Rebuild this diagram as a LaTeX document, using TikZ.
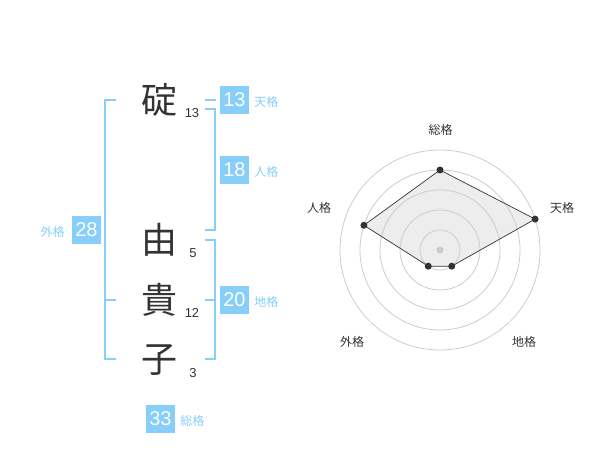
\documentclass[tikz,border=0pt]{standalone}
\usepackage{fontspec}
\setmainfont{Liberation Sans}
\newfontfamily\jpfont{Noto Sans CJK JP}
\usetikzlibrary{positioning}
\definecolor{kakublue}{HTML}{87CEFA}
\definecolor{inkgray}{HTML}{333333}

\begin{document}
\begin{tikzpicture}[x=1pt,y=-1pt,
            kanji/.style={font=\jpfont\fontsize{36}{36}\selectfont,text=inkgray,inner sep=0pt},
            stroke num/.style={font=\fontsize{13}{13}\selectfont,text=inkgray,inner sep=0pt},
            num box/.style={fill=kakublue,text=white,font=\fontsize{20}{20}\selectfont,
                minimum width=29pt,minimum height=28pt,inner sep=0pt},
            kaku label/.style={font=\jpfont\fontsize{12}{12}\selectfont,text=kakublue,inner sep=0pt},
            bracket/.style={draw=kakublue,line width=2pt},
            ring/.style={draw=black!20,line width=0.8pt},
            dot/.style={circle,fill=inkgray,inner sep=0pt,minimum size=7pt},
            axis label/.style={font=\jpfont\fontsize{12}{12}\selectfont,text=inkgray,inner sep=0pt}]

        \useasboundingbox (0,0) rectangle (600,470);

        % name
        \node[kanji] (c1) at (159.5,100) {碇};
        \node[kanji] (c2) at (159.5,240) {由};
        \node[kanji] (c3) at (159.5,300) {貴};
        \node[kanji] (c4) at (159.5,360) {子};

        \node[stroke num] (n1) at (192,113) {13};
        \node[stroke num] (n2) at (193,253) {5};
        \node[stroke num] (n3) at (192,313) {12};
        \node[stroke num] (n4) at (193,373) {3};

        % brackets
        \draw[bracket] (116,100) -| (105,359) -- (116,359);
        \draw[bracket] (105,300) -- (116,300);
        \draw[bracket] (205,100) -- (216,100);
        \draw[bracket] (205,109) -| (215,230) -- (205,230);
        \draw[bracket] (205,240) -| (215,359) -- (205,359);
        \draw[bracket] (205,300) -- (215,300);

        % boxes
        \node[num box] (ten) at (234.5,100) {13};
        \node[num box] (jin) at (234.5,170) {18};
        \node[num box] (chi) at (234.5,300) {20};
        \node[num box] (gai) at (86.5,230) {28};
        \node[num box] (sou) at (160.5,419) {33};

        \node[kaku label,right=5pt of ten,yshift=-2pt] (ten l) {天格};
        \node[kaku label,right=5pt of jin,yshift=-2pt] (jin l) {人格};
        \node[kaku label,right=5pt of chi,yshift=-2pt] (chi l) {地格};
        \node[kaku label,left=7pt of gai,yshift=-2pt] (gai l) {外格};
        \node[kaku label,right=5pt of sou,yshift=-2pt] (sou l) {総格};

        % radar
        \coordinate (ctr) at (440,250);

        \coordinate (p sou) at ([shift={(90:80pt)}]ctr);
        \coordinate (p ten) at ([shift={(18:100pt)}]ctr);
        \coordinate (p chi) at ([shift={(-54:20pt)}]ctr);
        \coordinate (p gai) at ([shift={(234:20pt)}]ctr);
        \coordinate (p jin) at ([shift={(162:80pt)}]ctr);

        \fill[black!7]
            (p sou) -- (p ten) -- (p chi) -- (p gai) -- (p jin) -- cycle;
        \foreach \r in {20,40,60,80,100}
            \draw[ring] (ctr) circle (\r pt);
        \draw[draw=inkgray,line width=0.7pt]
            (p sou) -- (p ten) -- (p chi) -- (p gai) -- (p jin) -- cycle;

        \node[circle,fill=black!20,inner sep=0pt,minimum size=7pt] (mid) at (ctr) {};
        \foreach \p in {sou,ten,chi,gai,jin}
            \node[dot] (d \p) at (p \p) {};

        \node[axis label] (a sou) at (440.5,130) {総格};
        \node[axis label] (a ten) at (562,208) {天格};
        \node[axis label] (a jin) at (319,208) {人格};
        \node[axis label] (a gai) at (352,342) {外格};
        \node[axis label] (a chi) at (524,342) {地格};

    \end{tikzpicture}
\end{document}
